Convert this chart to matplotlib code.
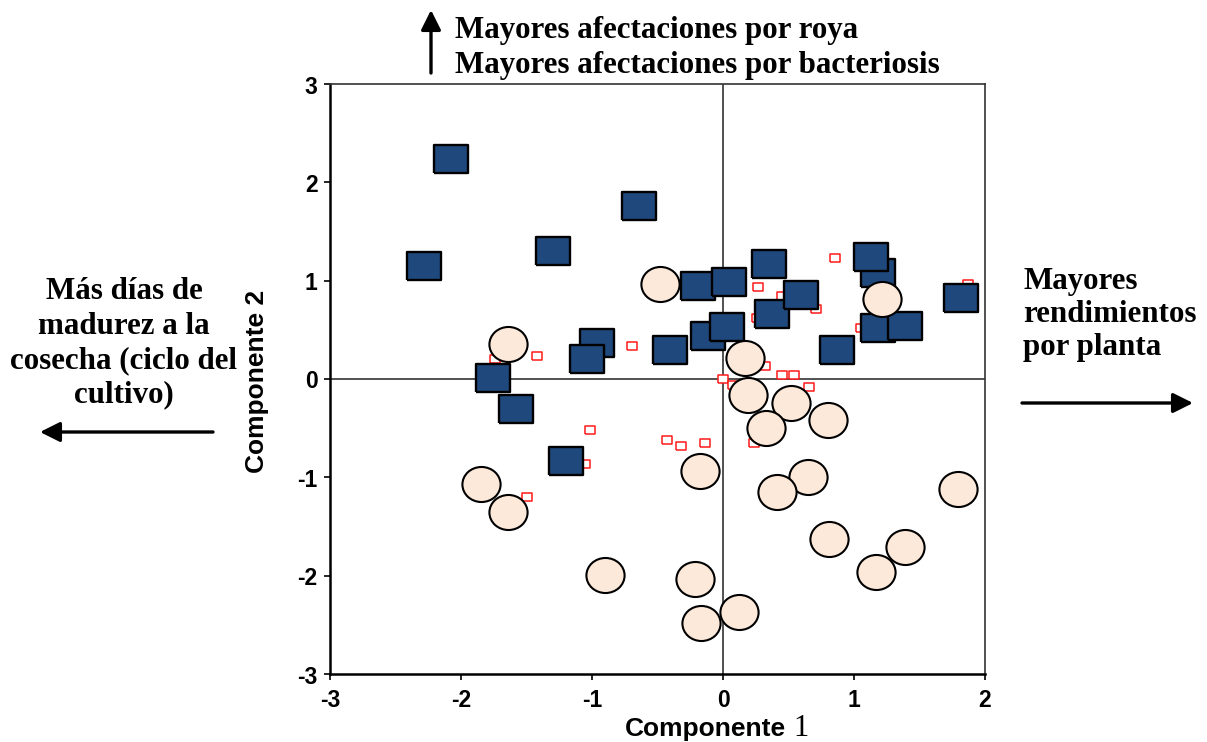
import matplotlib
matplotlib.use("Agg")
import matplotlib.pyplot as plt
from matplotlib.path import Path
from matplotlib.transforms import Affine2D, ScaledTranslation

# Component scores
# group 1: dark blue squares
sq_x = [-2.08, -2.28, -1.30, -0.64, -0.96, -1.04, -0.405, -1.756, -0.19, 0.046,
        0.35, 0.377, 0.595, 1.18, 1.13, 1.18, 1.39, 1.82, 0.87, -0.112, 0.033,
        -1.58, -1.196]
sq_y = [2.24, 1.15, 1.30, 1.76, 0.37, 0.20, 0.30, 0.01, 0.95, 0.99,
        1.17, 0.66, 0.85, 1.075, 1.24, 0.515, 0.535, 0.82, 0.30, 0.44, 0.53,
        -0.30, -0.83]

# group 2: light circles
ci_x = [-0.479, 1.21, -1.643, 0.168, 0.189, 0.519, 0.80, 0.326, -0.176, 0.651,
        -1.847, 1.796, 0.41, -1.64, 0.81, 1.39, 1.17, -0.90, -0.21, 0.122, -0.17]
ci_y = [0.97, 0.81, 0.36, 0.21, -0.163, -0.24, -0.417, -0.50, -0.936, -0.997,
        -1.07, -1.116, -1.15, -1.35, -1.63, -1.71, -1.96, -1.99, -2.03, -2.37, -2.48]

# small red open squares
rd_x = [-1.74, -1.418, -0.692, 0.857, 0.267, 1.868, 0.453, 0.708, 1.05, 0.257,
        0.32, 0.453, 0.54, 0.0, 0.08, 0.656, -0.425, -0.323, -0.137, 0.237,
        -1.013, -1.05, -1.50]
rd_y = [0.20, 0.234, 0.336, 1.23, 0.936, 0.97, 0.84, 0.71, 0.52, 0.62,
        0.135, 0.04, 0.04, 0.0, -0.06, -0.08, -0.62, -0.68, -0.655, -0.65,
        -0.52, -0.86, -1.20]

ticks = [-3, -2, -1, 0, 1, 2, 3]

W, H = 1207, 742
fig = plt.figure(figsize=(W / 100, H / 100), dpi=100)
ax = fig.add_axes([330 / W, 1 - 674 / H, 655 / W, 590 / H])

# wide rectangle and slightly wide ellipse markers
rect = [(-0.625, -0.5), (0.625, -0.5), (0.625, 0.5), (-0.625, 0.5), (-0.625, -0.5)]
ellipse = Path.unit_circle().transformed(Affine2D().scale(1.09, 1.0))

ax.axhline(0, color="#333333", lw=1.2, zorder=1)
ax.axvline(0, color="#333333", lw=1.2, zorder=1)

ax.plot(rd_x, rd_y, ls="none", marker=rect, ms=7, mfc="white", mec="#ff1a1a",
        mew=1.1, zorder=2)
for x, y in zip(sq_x, sq_y):
    ax.plot(x, y, ls="none", marker=rect, ms=25, mfc="#1f497d", mec="black",
            mew=1.7, zorder=3)
for x, y in zip(ci_x, ci_y):
    ax.plot(x, y, ls="none", marker=ellipse, ms=27.5, mfc="#fde9d9", mec="black",
            mew=1.5, zorder=4)

ax.set_xlim(-3, 2)
ax.set_ylim(-3, 3)
ax.set_xticks(ticks[:6])
ax.set_yticks(ticks)
tick_font = {"family": "Liberation Sans", "weight": "bold", "size": 16.5}
ax.set_xticklabels([str(t) for t in ticks[:6]], fontdict=tick_font)
ax.set_yticklabels([str(t) for t in ticks], fontdict=tick_font)
ax.tick_params(axis="x", direction="out", length=4, width=1.2, pad=7)
ax.tick_params(axis="y", direction="out", length=4, width=1.2, pad=5)
# y labels sit a little below their ticks in the original
shift = ScaledTranslation(0, -3 / 100, fig.dpi_scale_trans)
for lab in ax.get_yticklabels():
    lab.set_va("center")
    lab.set_transform(lab.get_transform() + shift)
for side in ["left", "bottom"]:
    ax.spines[side].set_linewidth(1.8)
for side in ["top", "right"]:
    ax.spines[side].set_linewidth(1.2)
    ax.spines[side].set_color("#333333")

# axis titles
fig.text(625 / W, 1 - 736 / H, "Componente", family="Liberation Sans",
         weight="bold", size=19, ha="left", va="baseline")
fig.text(793 / W, 1 - 736 / H, "1", family="Liberation Serif", size=22,
         ha="left", va="baseline")
fig.text(257 / W, 1 - 381 / H, "Componente 2", family="Liberation Sans",
         weight="bold", size=19, rotation=90, ha="center", va="center")

# interpretation notes around the plot
serif = {"family": "Liberation Serif", "weight": "bold", "size": 22.3}
top_lines = ["Mayores afectaciones por roya", "Mayores afectaciones por bacteriosis"]
for line, base in zip(top_lines, [38, 73]):
    fig.text(455 / W, 1 - base / H, line, ha="left", va="baseline", **serif)

left_lines = ["Más días de", "madurez a la", "cosecha (ciclo del", "cultivo)"]
for line, base in zip(left_lines, [299, 334, 368, 402]):
    fig.text(124 / W, 1 - base / H, line, ha="center", va="baseline", **serif)

right_lines = ["Mayores", "rendimientos", "por planta"]
for line, base in zip(right_lines, [289, 322, 355]):
    fig.text(1023 / W, 1 - base / H, line, ha="left", va="baseline", **serif)

arrow = dict(arrowstyle="-|>,head_length=0.6,head_width=0.3", color="black",
             lw=2.4, mutation_scale=20, shrinkA=0, shrinkB=0)
arrows = [((431, 10), (431, 73)), ((40, 432), (213, 432)), ((1193, 403), (1022, 403))]
for tip, tail in arrows:
    ax.annotate("", xy=(tip[0] / W, 1 - tip[1] / H), xycoords="figure fraction",
                xytext=(tail[0] / W, 1 - tail[1] / H), textcoords="figure fraction",
                arrowprops=arrow, annotation_clip=False)

fig.savefig("out.png", dpi=100)
